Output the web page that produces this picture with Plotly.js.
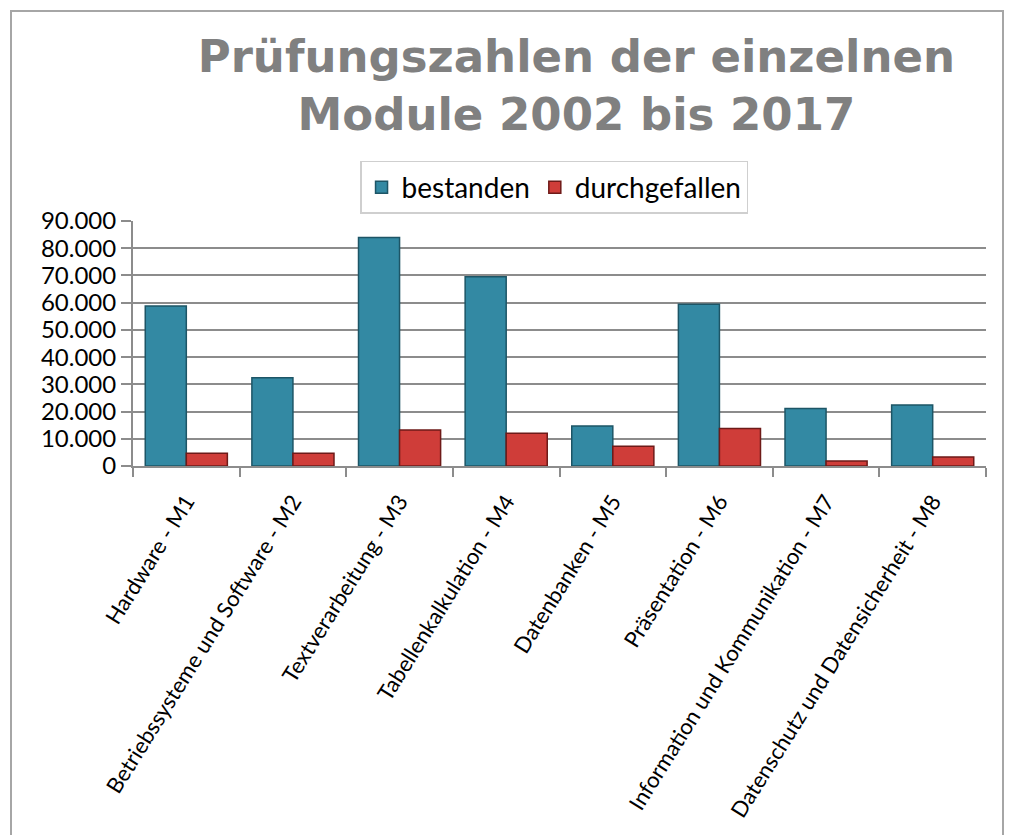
<!DOCTYPE html>
<html>
<head>
<meta charset="utf-8">
<script src="https://cdn.plot.ly/plotly-3.0.1.min.js"></script>
<style>
  html, body { margin: 0; padding: 0; background: #ffffff; }
  #chart { width: 1013px; height: 835px; }
  #frame { position: absolute; left: 10px; top: 10px; width: 990px; height: 840px;
           border: 2px solid #a6a6a6; pointer-events: none; }
</style>
</head>
<body>
<div id="chart"></div>
<div id="frame"></div>
<script>
const categories = [
  "Hardware - M1",
  "Betriebssysteme und Software - M2",
  "Textverarbeitung - M3",
  "Tabellenkalkulation - M4",
  "Datenbanken - M5",
  "Präsentation - M6",
  "Information und Kommunikation - M7",
  "Datenschutz und Datensicherheit - M8"
];
const bestanden     = [58800, 32400, 83900, 69500, 14700, 59400, 21100, 22400];
const durchgefallen = [4700, 4700, 13200, 12000, 7300, 13800, 1800, 3300];
const yTicks = [0, 10000, 20000, 30000, 40000, 50000, 60000, 70000, 80000, 90000];

const traces = [
  {
    type: "bar", name: "bestanden", x: categories, y: bestanden,
    marker: { color: "#3389a3", line: { color: "#1d5566", width: 1.5 } }
  },
  {
    type: "bar", name: "durchgefallen", x: categories, y: durchgefallen,
    marker: { color: "#cf3d39", line: { color: "#6e1a18", width: 1.5 } }
  }
];

const layout = {
  width: 1013, height: 835,
  paper_bgcolor: "#ffffff", plot_bgcolor: "#ffffff",
  separators: ",.",
  margin: { l: 133, r: 27, t: 221, b: 369, pad: 0 },
  barmode: "group", bargap: 0.23, bargroupgap: 0,
  showlegend: true,
  title: {
    text: "Prüfungszahlen der einzelnen<br>Module 2002 bis 2017",
    font: { family: "DejaVu Sans, sans-serif", size: 45, color: "#808080", weight: "bold" },
    x: 0.569, xref: "container", xanchor: "center",
    y: 0.9138, yref: "container", yanchor: "top"
  },
  legend: {
    orientation: "h", x: 0.4936, xanchor: "center", y: 1.245, yanchor: "top",
    bordercolor: "#cfcfcf", borderwidth: 1.5, bgcolor: "#ffffff",
    font: { family: "Lato, sans-serif", size: 28, color: "#000000" },
    itemwidth: 30, tracegroupgap: 0
  },
  xaxis: {
    type: "category",
    tickangle: -58,
    tickfont: { family: "Lato, sans-serif", size: 22, color: "#000000" },
    ticks: "outside", tickson: "boundaries", ticklen: 9, tickwidth: 2, tickcolor: "#8c8c8c",
    ticklabelstandoff: 12,
    showline: true, linecolor: "#8c8c8c", linewidth: 2,
    showgrid: false, zeroline: false, automargin: false
  },
  yaxis: {
    range: [0, 90000], tickvals: yTicks, tickformat: ",d",
    tickfont: { family: "Lato, sans-serif", size: 24, color: "#000000" },
    ticks: "outside", ticklen: 10, tickwidth: 2, tickcolor: "#8c8c8c",
    showgrid: true, gridcolor: "#8c8c8c", gridwidth: 2,
    showline: true, linecolor: "#8c8c8c", linewidth: 2,
    zeroline: false, automargin: false
  }
};

Plotly.newPlot("chart", traces, layout, { displayModeBar: false, staticPlot: true });
</script>
</body>
</html>
